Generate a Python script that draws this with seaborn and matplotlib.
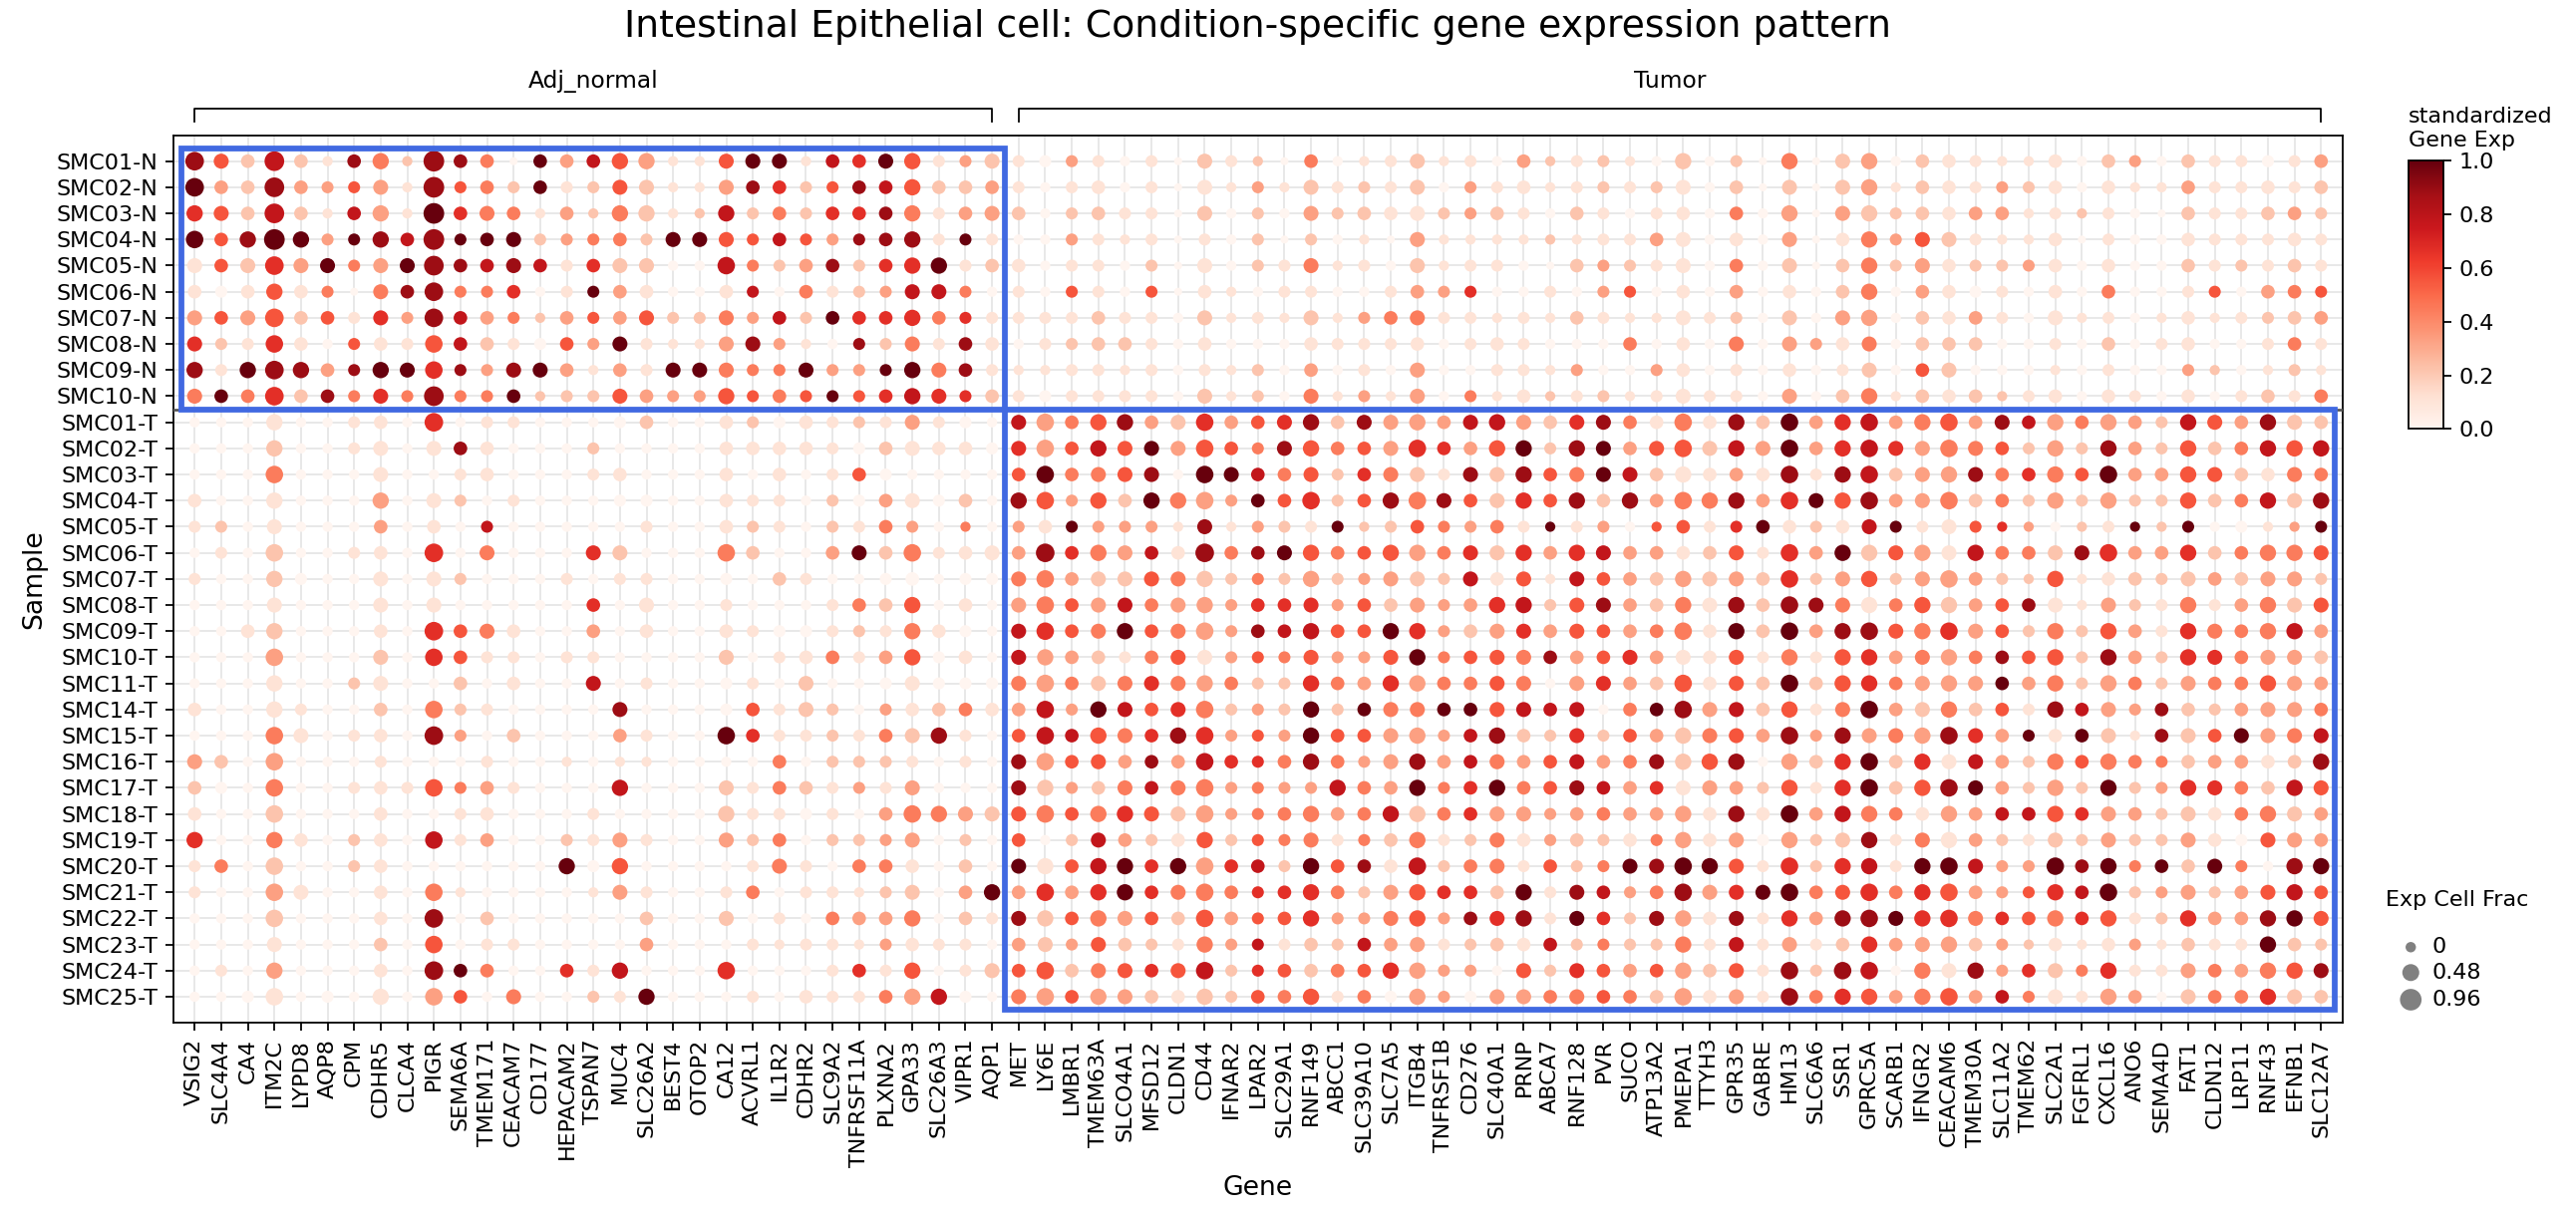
import numpy as np
import pandas as pd
import seaborn as sns
import matplotlib.pyplot as plt
from matplotlib.patches import Rectangle
from matplotlib.colors import Normalize
from matplotlib.cm import ScalarMappable

# genes shown for each condition group
normal_genes = ["VSIG2", "SLC4A4", "CA4", "ITM2C", "LYPD8", "AQP8", "CPM", "CDHR5", "CLCA4",
                "PIGR", "SEMA6A", "TMEM171", "CEACAM7", "CD177", "HEPACAM2", "TSPAN7", "MUC4",
                "SLC26A2", "BEST4", "OTOP2", "CA12", "ACVRL1", "IL1R2", "CDHR2", "SLC9A2",
                "TNFRSF11A", "PLXNA2", "GPA33", "SLC26A3", "VIPR1", "AQP1"]
tumor_genes = ["MET", "LY6E", "LMBR1", "TMEM63A", "SLCO4A1", "MFSD12", "CLDN1", "CD44", "IFNAR2",
               "LPAR2", "SLC29A1", "RNF149", "ABCC1", "SLC39A10", "SLC7A5", "ITGB4", "TNFRSF1B",
               "CD276", "SLC40A1", "PRNP", "ABCA7", "RNF128", "PVR", "SUCO", "ATP13A2", "PMEPA1",
               "TTYH3", "GPR35", "GABRE", "HM13", "SLC6A6", "SSR1", "GPRC5A", "SCARB1", "IFNGR2",
               "CEACAM6", "TMEM30A", "SLC11A2", "TMEM62", "SLC2A1", "FGFRL1", "CXCL16", "ANO6",
               "SEMA4D", "FAT1", "CLDN12", "LRP11", "RNF43", "EFNB1", "SLC12A7"]

samples = ["SMC01-N", "SMC02-N", "SMC03-N", "SMC04-N", "SMC05-N", "SMC06-N", "SMC07-N",
           "SMC08-N", "SMC09-N", "SMC10-N",
           "SMC01-T", "SMC02-T", "SMC03-T", "SMC04-T", "SMC05-T", "SMC06-T", "SMC07-T",
           "SMC08-T", "SMC09-T", "SMC10-T", "SMC11-T", "SMC14-T", "SMC15-T", "SMC16-T",
           "SMC17-T", "SMC18-T", "SMC19-T", "SMC20-T", "SMC21-T", "SMC22-T", "SMC23-T",
           "SMC24-T", "SMC25-T"]

# standardized expression, one digit per gene (0 = 0.0 ... 9 = 1.0)
expr_rows = [
    "852721842884093753115 99176951321031010212 04011211032121020204 02302111110230211013",
    "932833531854291252113 86258752231011010113 12121203111121210202 02312113210111311112",
    "652721731964413242127 24266841332022110202 03221123210210110403 03222133112100211232",
    "958993987899923442995 57538881910031110102 02010311112111310103 01435211110100111111",
    "152639439887871622007 42382669121011020102 14110211100232110402 02423122310100212121",
    "101514048844601931001 70412377401051050110 11001336001035010301 02403101010400150345",
    "353525163873423535224 37296664611112110211 12134411111211111202 03302131011101111223",
    "621610511572105391113 83108241810122210100 01111101110004010403 31402220010201100141",
    "819883899683893131994 44933994811111110112 03010300111300310101 01205200010100320121",
    "494628464844922253335 54595676621011110212 04131304112121111103 02412122110110101214",
    "000100110601100002001 20112131007345832635 68283337732684141829 36734538734332753822",
    "000200110181000200001 11110211106357593554 85453663592893552739 36763445232832524757",
    "000400010011000110001 01015000005944580997 45264218285497211318 18723384645933552144",
    "100100030120100000001 11020310208535294339 56258485265828344836 95833424232322524728",
    "120100030107000001001 21021430403193331813 21922543419130551691 21791156302192900139",
    "010200110604000620004 20039241113864371848 95455346263673312516 39253174428633624445",
    "100200010120001011000 02100000004432254224 23233227151753232326 23523332251122232332",
    "000100010100000601001 00014250103453743336 66352333672583241828 84145235811321413425",
    "001200010654100301001 10012141007654954338 77559632363553441929 38854635242531644473",
    "000300020651101100002 01141350107332145135 45335945548356311514 15634348552832664332",
    "000100210020100701000 10200010004342464342 26436344540363251529 25643339342342344533",
    "100110020421000080000 51220312413739756423 29294499577704983725 14932425187338223334",
    "000410110830200031009 61121428105775468635 39553337822625324538 38343863919218259347",
    "320300010001001011000 04022210108355383766 48433837435734825803 26926173245444233128",
    "200400111543100070002 14213130008232474434 33743946945873613325 16925893232923664275",
    "100200010011000100002 11010344325454652334 44347246333343331819 37441337756332214423",
    "600410210713002131003 24022330205027321525 44142412413221431303 22814132122322310533",
    "140200210000009050000 14104410209157969367 29581724415249899516 26719973398949294089",
    "100310010410000131001 40111220393636964446 66423566291873483699 45646533567923323575",
    "000200010802000002002 01043340218254352535 56334538681962831816 38896646546512633895",
    "000100020501100003000 11111311103235221437 12273312217242241713 12633323211131211922",
    "010300010894006170006 00016150125524565726 52456333052653532518 28704183624611343458",
    "000100010350400219000 10111437004353321225 45140330334454231318 46534537411330244622",
]

# fraction of expressing cells, one digit per gene (0 = 0.0 ... 9 = 0.96)
frac_rows = [
    "743831351933033355114 44133452242222120421 03112412131221151205 04513321131321322223",
    "733832241923232244114 33223353332123120412 14222412231222241304 04513322231311322323",
    "543831351934313155115 23233352343123220412 14233422321321231315 04523333121210322332",
    "635952253923422232444 23222352221122120212 02110411111122341314 03524421130211322232",
    "434744244833432344116 22332355233122120412 24121412210322241314 03524322231311322232",
    "323532043722312233113 21322244212122120311 22112322112122131313 13513322131311221332",
    "434733242733213234224 23233353222223221412 14123422121321142214 14513332141211312233",
    "422631232633223242114 42112242331223321311 13222312321113131414 23413331121312311232",
    "525753254622443132444 22422254321122121212 13121411221211231213 12413411111211211121",
    "433733242822312243225 23222354232222221412 14121412131221242214 13513331231321312323",
    "111511231712211123113 22322242214635534633 45344534543443363536 35635634353532543543",
    "111511241433111211113 33322343324635444632 45334633552543464546 35644643252532533555",
    "111611141123111231113 13123211113634441643 34234424453444353336 25634543353633543343",
    "311511151421211122113 22122342315625355623 36235643453535365536 45634633252522533545",
    "221411131312111112113 22122321112322221412 22212322321221132233 23422421111211212112",
    "121611231714111441116 31134362343735433733 45335534453543333426 35545453344633533554",
    "211521141421112122112 13211231224634444522 25224424341433354436 24524632151332433442",
    "111411141411111314112 11123351314634434523 34233423552443354536 44535533341422523544",
    "113511131734311313113 22222253214634534623 35335523443433363536 35645643252532543553",
    "111611141632212211114 12332352314533234422 24224523443334343425 25534533352532543443",
    "111511241131311412112 21411242224634444532 25335533441443363436 35534543352532433543",
    "311521131622111141112 32421233333625434622 25234433443413364435 24634533253423323443",
    "111641231721311132116 32222345213635435622 25334523532423354436 25445643233413434444",
    "431611121112111111111 13122221214634333632 35324533433433455515 35635443253532333335",
    "321611232623211151114 23322241114523434622 22533523533433344325 25635643252522543354",
    "311611131123111211115 22221365444635544622 35335533442333353536 35533533353432433543",
    "511531231623112242114 23122241213124323522 24223522432323253425 24524532242422432443",
    "231611231111115251111 24213331314535535633 25333623423224465426 25525642263523342155",
    "211641131611111142112 31221241353635534632 35324533352432364446 34635632253622423453",
    "111611131713111113114 12133351324535433632 35224523452432453425 35645643353522533554",
    "111411131612211113111 21221232213424322522 23233422333222252424 23534532131321322532",
    "121511131733113251116 11123251243634434622 33335522142433353426 26615452342522433554",
    "112612151631411225111 21322355214635433523 35232522443433363426 35535633242531433543",
]

size_legend_values = [0, 0.48, 0.96]
colorbar_ticks = [0.0, 0.2, 0.4, 0.6, 0.8, 1.0]

genes = normal_genes + tumor_genes

records = []
for sample, e_row, f_row in zip(samples, expr_rows, frac_rows):
    e_row = e_row.replace(" ", "")
    f_row = f_row.replace(" ", "")
    assert len(e_row) == len(genes) and len(f_row) == len(genes), sample
    for gene, e, f in zip(genes, e_row, f_row):
        records.append((sample, gene, int(e) / 9, int(f) / 9 * 0.96))
df = pd.DataFrame(records, columns=["Sample", "Gene", "expr", "frac"])

DPI = 160
W, H = 2584, 1223
SIZE_MIN, SIZE_MAX = 13, 87

fig = plt.figure(figsize=(W / DPI, H / DPI), dpi=DPI)
ax = fig.add_axes([0.0673, 0.1609, 0.842, 0.7283])

sns.scatterplot(data=df, x="Gene", y="Sample", hue="expr", size="frac",
                palette="Reds", hue_norm=(0, 1), sizes=(SIZE_MIN, SIZE_MAX),
                size_norm=(0, 0.96), linewidth=0, legend=False, ax=ax, zorder=3)

ax.set_xticks(range(len(genes)))
ax.set_xticklabels(genes, rotation=90, fontsize=10)
ax.set_yticks(range(len(samples)))
ax.set_yticklabels(samples, fontsize=10)
ax.set_xlim(-0.8, len(genes) - 0.2)
ax.set_ylim(len(samples), -1)
ax.grid(True, color="#e6e6e6", linewidth=0.8)
ax.set_axisbelow(True)
ax.set_xlabel("Gene", fontsize=12)
ax.set_ylabel("Sample", fontsize=12)

# condition separator and highlight boxes
n_norm = len(normal_genes)
n_norm_samples = 10
ax.axhline(n_norm_samples - 0.5, color="#555555", lw=1.2, zorder=4)
ax.add_patch(Rectangle((-0.5, -0.5), n_norm, n_norm_samples, fill=False,
                       edgecolor="#4169e1", lw=2.6, zorder=5, clip_on=False))
ax.add_patch(Rectangle((n_norm - 0.5, n_norm_samples - 0.5), len(tumor_genes),
                       len(samples) - n_norm_samples, fill=False,
                       edgecolor="#4169e1", lw=2.6, zorder=5, clip_on=False))

# gene group brackets
ax_top = fig.add_axes([0.0673, 0.8937, 0.842, 0.057])
ax_top.set_xlim(ax.get_xlim())
ax_top.set_ylim(0, 1)
ax_top.axis("off")
for label, start, end in [("Adj_normal", 0, n_norm - 1), ("Tumor", n_norm, len(genes) - 1)]:
    ax_top.plot([start, start, end, end], [0.11, 0.3, 0.3, 0.11], color="black", lw=0.8)
    ax_top.text((start + end) / 2, 0.69, label, ha="center", va="center", fontsize=10.5)

fig.text(0.4883, 0.978, "Intestinal Epithelial cell: Condition-specific gene expression pattern",
         ha="center", va="center", fontsize=17)

# colorbar
cax = fig.add_axes([0.935, 0.648, 0.0135, 0.22])
cb = fig.colorbar(ScalarMappable(norm=Normalize(0, 1), cmap="Reds"), cax=cax)
cb.set_ticks(colorbar_ticks)
cb.ax.tick_params(labelsize=10)
cax.text(0, 1.04, "standardized\nGene Exp", transform=cax.transAxes,
         ha="left", va="bottom", fontsize=10)

# size legend
fig.text(0.926, 0.262, "Exp Cell Frac", ha="left", va="center", fontsize=10)
lax = fig.add_axes([0.925, 0.166, 0.0658, 0.0695])
lax.set_xlim(0, 1)
lax.set_ylim(0, 1)
lax.axis("off")
legend_y = [0.82, 0.52, 0.2]
legend_sizes = [22 + v / 0.96 * (95 - 22) for v in size_legend_values]
lax.scatter([0.165] * 3, legend_y, s=legend_sizes, color="#808080", linewidth=0)
for v, y in zip(size_legend_values, legend_y):
    lax.text(0.29, y, f"{v:g}", ha="left", va="center", fontsize=10)

fig.savefig("out.png", dpi=DPI)
